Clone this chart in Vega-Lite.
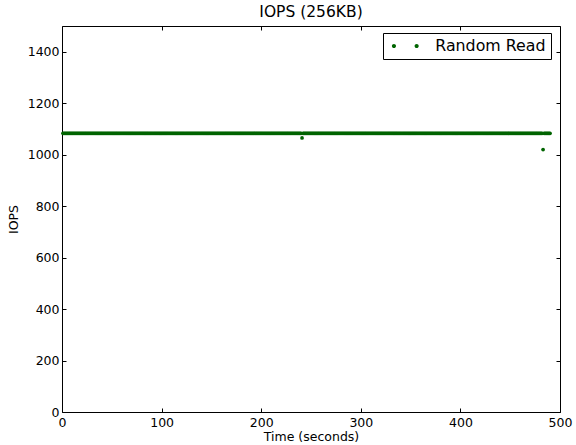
{
"$schema": "https://vega.github.io/schema/vega-lite/v6.json",
"width": 498, "height": 386,
"autosize": {"type": "none"},
"padding": {"left": 62, "top": 26, "right": 16, "bottom": 33},
"background": "white",
"title": {"text": "IOPS (256KB)", "fontSize": 15.5, "font": "DejaVu Sans", "fontWeight": "normal", "color": "black", "offset": 5},
"data": {"values": [
{"t":1,"v":1083},{"t":2,"v":1083},{"t":3,"v":1083},{"t":4,"v":1083},{"t":5,"v":1083},{"t":6,"v":1083},{"t":7,"v":1083},{"t":8,"v":1083},{"t":9,"v":1083},{"t":10,"v":1083},
{"t":11,"v":1083},{"t":12,"v":1083},{"t":13,"v":1083},{"t":14,"v":1083},{"t":15,"v":1083},{"t":16,"v":1083},{"t":17,"v":1083},{"t":18,"v":1083},{"t":19,"v":1083},{"t":20,"v":1083},
{"t":21,"v":1083},{"t":22,"v":1083},{"t":23,"v":1083},{"t":24,"v":1083},{"t":25,"v":1083},{"t":26,"v":1083},{"t":27,"v":1083},{"t":28,"v":1083},{"t":29,"v":1083},{"t":30,"v":1083},
{"t":31,"v":1083},{"t":32,"v":1083},{"t":33,"v":1083},{"t":34,"v":1083},{"t":35,"v":1083},{"t":36,"v":1083},{"t":37,"v":1083},{"t":38,"v":1083},{"t":39,"v":1083},{"t":40,"v":1083},
{"t":41,"v":1083},{"t":42,"v":1083},{"t":43,"v":1083},{"t":44,"v":1083},{"t":45,"v":1083},{"t":46,"v":1083},{"t":47,"v":1083},{"t":48,"v":1083},{"t":49,"v":1083},{"t":50,"v":1083},
{"t":51,"v":1083},{"t":52,"v":1083},{"t":53,"v":1083},{"t":54,"v":1083},{"t":55,"v":1083},{"t":56,"v":1083},{"t":57,"v":1083},{"t":58,"v":1083},{"t":59,"v":1083},{"t":60,"v":1083},
{"t":61,"v":1083},{"t":62,"v":1083},{"t":63,"v":1083},{"t":64,"v":1083},{"t":65,"v":1083},{"t":66,"v":1083},{"t":67,"v":1083},{"t":68,"v":1083},{"t":69,"v":1083},{"t":70,"v":1083},
{"t":71,"v":1083},{"t":72,"v":1083},{"t":73,"v":1083},{"t":74,"v":1083},{"t":75,"v":1083},{"t":76,"v":1083},{"t":77,"v":1083},{"t":78,"v":1083},{"t":79,"v":1083},{"t":80,"v":1083},
{"t":81,"v":1083},{"t":82,"v":1083},{"t":83,"v":1083},{"t":84,"v":1083},{"t":85,"v":1083},{"t":86,"v":1083},{"t":87,"v":1083},{"t":88,"v":1083},{"t":89,"v":1083},{"t":90,"v":1083},
{"t":91,"v":1083},{"t":92,"v":1083},{"t":93,"v":1083},{"t":94,"v":1083},{"t":95,"v":1083},{"t":96,"v":1083},{"t":97,"v":1083},{"t":98,"v":1083},{"t":99,"v":1083},{"t":100,"v":1083},
{"t":101,"v":1083},{"t":102,"v":1083},{"t":103,"v":1083},{"t":104,"v":1083},{"t":105,"v":1083},{"t":106,"v":1083},{"t":107,"v":1083},{"t":108,"v":1083},{"t":109,"v":1083},{"t":110,"v":1083},
{"t":111,"v":1083},{"t":112,"v":1083},{"t":113,"v":1083},{"t":114,"v":1083},{"t":115,"v":1083},{"t":116,"v":1083},{"t":117,"v":1083},{"t":118,"v":1083},{"t":119,"v":1083},{"t":120,"v":1083},
{"t":121,"v":1083},{"t":122,"v":1083},{"t":123,"v":1083},{"t":124,"v":1083},{"t":125,"v":1083},{"t":126,"v":1083},{"t":127,"v":1083},{"t":128,"v":1083},{"t":129,"v":1083},{"t":130,"v":1083},
{"t":131,"v":1083},{"t":132,"v":1083},{"t":133,"v":1083},{"t":134,"v":1083},{"t":135,"v":1083},{"t":136,"v":1083},{"t":137,"v":1083},{"t":138,"v":1083},{"t":139,"v":1083},{"t":140,"v":1083},
{"t":141,"v":1083},{"t":142,"v":1083},{"t":143,"v":1083},{"t":144,"v":1083},{"t":145,"v":1083},{"t":146,"v":1083},{"t":147,"v":1083},{"t":148,"v":1083},{"t":149,"v":1083},{"t":150,"v":1083},
{"t":151,"v":1083},{"t":152,"v":1083},{"t":153,"v":1083},{"t":154,"v":1083},{"t":155,"v":1083},{"t":156,"v":1083},{"t":157,"v":1083},{"t":158,"v":1083},{"t":159,"v":1083},{"t":160,"v":1083},
{"t":161,"v":1083},{"t":162,"v":1083},{"t":163,"v":1083},{"t":164,"v":1083},{"t":165,"v":1083},{"t":166,"v":1083},{"t":167,"v":1083},{"t":168,"v":1083},{"t":169,"v":1083},{"t":170,"v":1083},
{"t":171,"v":1083},{"t":172,"v":1083},{"t":173,"v":1083},{"t":174,"v":1083},{"t":175,"v":1083},{"t":176,"v":1083},{"t":177,"v":1083},{"t":178,"v":1083},{"t":179,"v":1083},{"t":180,"v":1083},
{"t":181,"v":1083},{"t":182,"v":1083},{"t":183,"v":1083},{"t":184,"v":1083},{"t":185,"v":1083},{"t":186,"v":1083},{"t":187,"v":1083},{"t":188,"v":1083},{"t":189,"v":1083},{"t":190,"v":1083},
{"t":191,"v":1083},{"t":192,"v":1083},{"t":193,"v":1083},{"t":194,"v":1083},{"t":195,"v":1083},{"t":196,"v":1083},{"t":197,"v":1083},{"t":198,"v":1083},{"t":199,"v":1083},{"t":200,"v":1083},
{"t":201,"v":1083},{"t":202,"v":1083},{"t":203,"v":1083},{"t":204,"v":1083},{"t":205,"v":1083},{"t":206,"v":1083},{"t":207,"v":1083},{"t":208,"v":1083},{"t":209,"v":1083},{"t":210,"v":1083},
{"t":211,"v":1083},{"t":212,"v":1083},{"t":213,"v":1083},{"t":214,"v":1083},{"t":215,"v":1083},{"t":216,"v":1083},{"t":217,"v":1083},{"t":218,"v":1083},{"t":219,"v":1083},{"t":220,"v":1083},
{"t":221,"v":1083},{"t":222,"v":1083},{"t":223,"v":1083},{"t":224,"v":1083},{"t":225,"v":1083},{"t":226,"v":1083},{"t":227,"v":1083},{"t":228,"v":1083},{"t":229,"v":1083},{"t":230,"v":1083},
{"t":231,"v":1083},{"t":232,"v":1083},{"t":233,"v":1083},{"t":234,"v":1083},{"t":235,"v":1083},{"t":236,"v":1083},{"t":237,"v":1083},{"t":238,"v":1083},{"t":239,"v":1083},{"t":240,"v":1083},
{"t":241,"v":1065},{"t":242,"v":1083},{"t":243,"v":1083},{"t":244,"v":1083},{"t":245,"v":1083},{"t":246,"v":1083},{"t":247,"v":1083},{"t":248,"v":1083},{"t":249,"v":1083},{"t":250,"v":1083},
{"t":251,"v":1083},{"t":252,"v":1083},{"t":253,"v":1083},{"t":254,"v":1083},{"t":255,"v":1083},{"t":256,"v":1083},{"t":257,"v":1083},{"t":258,"v":1083},{"t":259,"v":1083},{"t":260,"v":1083},
{"t":261,"v":1083},{"t":262,"v":1083},{"t":263,"v":1083},{"t":264,"v":1083},{"t":265,"v":1083},{"t":266,"v":1083},{"t":267,"v":1083},{"t":268,"v":1083},{"t":269,"v":1083},{"t":270,"v":1083},
{"t":271,"v":1083},{"t":272,"v":1083},{"t":273,"v":1083},{"t":274,"v":1083},{"t":275,"v":1083},{"t":276,"v":1083},{"t":277,"v":1083},{"t":278,"v":1083},{"t":279,"v":1083},{"t":280,"v":1083},
{"t":281,"v":1083},{"t":282,"v":1083},{"t":283,"v":1083},{"t":284,"v":1083},{"t":285,"v":1083},{"t":286,"v":1083},{"t":287,"v":1083},{"t":288,"v":1083},{"t":289,"v":1083},{"t":290,"v":1083},
{"t":291,"v":1083},{"t":292,"v":1083},{"t":293,"v":1083},{"t":294,"v":1083},{"t":295,"v":1083},{"t":296,"v":1083},{"t":297,"v":1083},{"t":298,"v":1083},{"t":299,"v":1083},{"t":300,"v":1083},
{"t":301,"v":1083},{"t":302,"v":1083},{"t":303,"v":1083},{"t":304,"v":1083},{"t":305,"v":1083},{"t":306,"v":1083},{"t":307,"v":1083},{"t":308,"v":1083},{"t":309,"v":1083},{"t":310,"v":1083},
{"t":311,"v":1083},{"t":312,"v":1083},{"t":313,"v":1083},{"t":314,"v":1083},{"t":315,"v":1083},{"t":316,"v":1083},{"t":317,"v":1083},{"t":318,"v":1083},{"t":319,"v":1083},{"t":320,"v":1083},
{"t":321,"v":1083},{"t":322,"v":1083},{"t":323,"v":1083},{"t":324,"v":1083},{"t":325,"v":1083},{"t":326,"v":1083},{"t":327,"v":1083},{"t":328,"v":1083},{"t":329,"v":1083},{"t":330,"v":1083},
{"t":331,"v":1083},{"t":332,"v":1083},{"t":333,"v":1083},{"t":334,"v":1083},{"t":335,"v":1083},{"t":336,"v":1083},{"t":337,"v":1083},{"t":338,"v":1083},{"t":339,"v":1083},{"t":340,"v":1083},
{"t":341,"v":1083},{"t":342,"v":1083},{"t":343,"v":1083},{"t":344,"v":1083},{"t":345,"v":1083},{"t":346,"v":1083},{"t":347,"v":1083},{"t":348,"v":1083},{"t":349,"v":1083},{"t":350,"v":1083},
{"t":351,"v":1083},{"t":352,"v":1083},{"t":353,"v":1083},{"t":354,"v":1083},{"t":355,"v":1083},{"t":356,"v":1083},{"t":357,"v":1083},{"t":358,"v":1083},{"t":359,"v":1083},{"t":360,"v":1083},
{"t":361,"v":1083},{"t":362,"v":1083},{"t":363,"v":1083},{"t":364,"v":1083},{"t":365,"v":1083},{"t":366,"v":1083},{"t":367,"v":1083},{"t":368,"v":1083},{"t":369,"v":1083},{"t":370,"v":1083},
{"t":371,"v":1083},{"t":372,"v":1083},{"t":373,"v":1083},{"t":374,"v":1083},{"t":375,"v":1083},{"t":376,"v":1083},{"t":377,"v":1083},{"t":378,"v":1083},{"t":379,"v":1083},{"t":380,"v":1083},
{"t":381,"v":1083},{"t":382,"v":1083},{"t":383,"v":1083},{"t":384,"v":1083},{"t":385,"v":1083},{"t":386,"v":1083},{"t":387,"v":1083},{"t":388,"v":1083},{"t":389,"v":1083},{"t":390,"v":1083},
{"t":391,"v":1083},{"t":392,"v":1083},{"t":393,"v":1083},{"t":394,"v":1083},{"t":395,"v":1083},{"t":396,"v":1083},{"t":397,"v":1083},{"t":398,"v":1083},{"t":399,"v":1083},{"t":400,"v":1083},
{"t":401,"v":1083},{"t":402,"v":1083},{"t":403,"v":1083},{"t":404,"v":1083},{"t":405,"v":1083},{"t":406,"v":1083},{"t":407,"v":1083},{"t":408,"v":1083},{"t":409,"v":1083},{"t":410,"v":1083},
{"t":411,"v":1083},{"t":412,"v":1083},{"t":413,"v":1083},{"t":414,"v":1083},{"t":415,"v":1083},{"t":416,"v":1083},{"t":417,"v":1083},{"t":418,"v":1083},{"t":419,"v":1083},{"t":420,"v":1083},
{"t":421,"v":1083},{"t":422,"v":1083},{"t":423,"v":1083},{"t":424,"v":1083},{"t":425,"v":1083},{"t":426,"v":1083},{"t":427,"v":1083},{"t":428,"v":1083},{"t":429,"v":1083},{"t":430,"v":1083},
{"t":431,"v":1083},{"t":432,"v":1083},{"t":433,"v":1083},{"t":434,"v":1083},{"t":435,"v":1083},{"t":436,"v":1083},{"t":437,"v":1083},{"t":438,"v":1083},{"t":439,"v":1083},{"t":440,"v":1083},
{"t":441,"v":1083},{"t":442,"v":1083},{"t":443,"v":1083},{"t":444,"v":1083},{"t":445,"v":1083},{"t":446,"v":1083},{"t":447,"v":1083},{"t":448,"v":1083},{"t":449,"v":1083},{"t":450,"v":1083},
{"t":451,"v":1083},{"t":452,"v":1083},{"t":453,"v":1083},{"t":454,"v":1083},{"t":455,"v":1083},{"t":456,"v":1083},{"t":457,"v":1083},{"t":458,"v":1083},{"t":459,"v":1083},{"t":460,"v":1083},
{"t":461,"v":1083},{"t":462,"v":1083},{"t":463,"v":1083},{"t":464,"v":1083},{"t":465,"v":1083},{"t":466,"v":1083},{"t":467,"v":1083},{"t":468,"v":1083},{"t":469,"v":1083},{"t":470,"v":1083},
{"t":471,"v":1083},{"t":472,"v":1083},{"t":473,"v":1083},{"t":474,"v":1083},{"t":475,"v":1083},{"t":476,"v":1083},{"t":477,"v":1083},{"t":478,"v":1083},{"t":479,"v":1083},{"t":480,"v":1083},
{"t":481,"v":1083},{"t":482,"v":1083},{"t":483,"v":1020},{"t":484,"v":1083},{"t":485,"v":1083},{"t":486,"v":1083},{"t":487,"v":1083},{"t":488,"v":1083},{"t":489,"v":1083},{"t":490,"v":1083}
]},
"layer": [
{
"mark": {"type": "point", "filled": true, "size": 14, "opacity": 1},
"encoding": {
"x": {"field": "t", "type": "quantitative", "scale": {"domain": [0, 500], "nice": false, "zero": false},
 "axis": {"orient": "bottom", "title": "Time (seconds)", "values": [0, 100, 200, 300, 400, 500], "format": "d", "labelFlush": false, "labelPadding": 8, "titlePadding": 2}},
"y": {"field": "v", "type": "quantitative", "scale": {"domain": [0, 1500], "nice": false},
 "axis": {"orient": "left", "title": "IOPS", "values": [0, 200, 400, 600, 800, 1000, 1200, 1400], "format": "d", "labelFlush": false, "labelPadding": 7, "titlePadding": 7}},
"color": {"datum": "Random Read", "type": "nominal", "scale": {"range": ["#006400"]}, "legend": {"title": null}}
}
},
{
"mark": {"type": "point", "opacity": 0},
"encoding": {
"x": {"field": "t", "type": "quantitative", "axis": {"orient": "top", "title": null, "labels": false, "values": [0, 100, 200, 300, 400, 500]}},
"y": {"field": "v", "type": "quantitative", "axis": {"orient": "right", "title": null, "labels": false, "values": [0, 200, 400, 600, 800, 1000, 1200, 1400]}}
}
}
],
"resolve": {"axis": {"x": "independent", "y": "independent"}},
"config": {
"view": {"stroke": "black", "strokeWidth": 1},
"axis": {"domain": false, "grid": false, "tickColor": "black", "tickSize": -4, "tickWidth": 1, "labelColor": "black", "labelFont": "DejaVu Sans", "labelFontSize": 12.5, "titleFont": "DejaVu Sans", "titleFontSize": 12.5, "titleFontWeight": "normal", "titleColor": "black"},
"legend": {"orient": "none", "legendX": 321, "legendY": 7, "strokeColor": "black", "fillColor": "white", "padding": 5, "cornerRadius": 0,
 "symbolType": "M -1.159,0 A 0.26,0.26 0 1,1 -1.679,0 A 0.26,0.26 0 1,1 -1.159,0 Z M 1.679,0 A 0.26,0.26 0 1,1 1.159,0 A 0.26,0.26 0 1,1 1.679,0 Z",
 "symbolSize": 256, "symbolStrokeWidth": 0, "symbolOffset": 9.3, "labelOffset": 22, "labelFontSize": 15.8, "labelFont": "DejaVu Sans", "labelColor": "black"}
}
}
